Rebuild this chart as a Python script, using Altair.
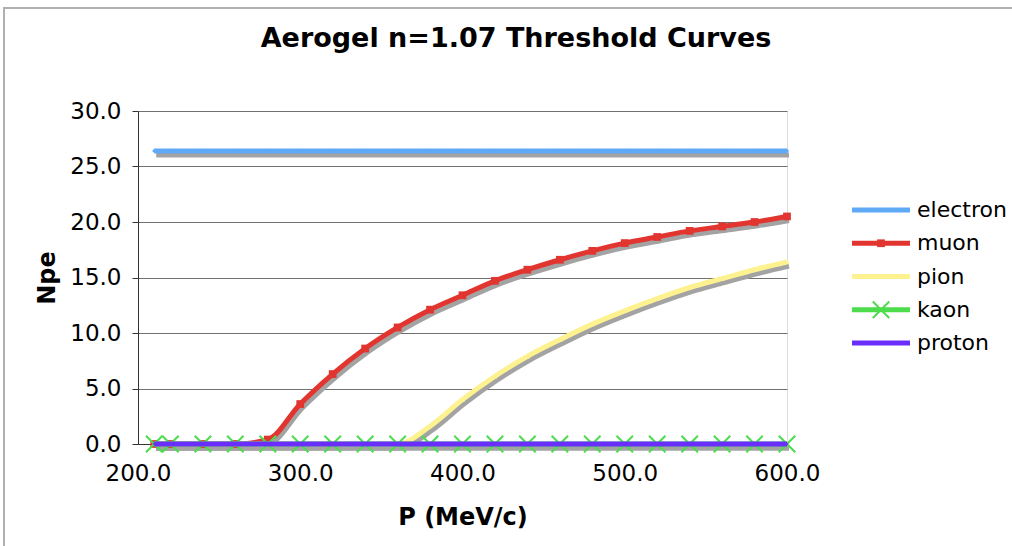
import altair as alt
import pandas as pd

# ---- data ----
P = [210, 220, 240, 260, 280, 300, 320, 340, 360, 380, 400,
     420, 440, 460, 480, 500, 520, 540, 560, 580, 600]
electron = [26.4, 26.4, 26.4, 26.4, 26.4, 26.4, 26.4, 26.4, 26.4, 26.4, 26.4,
            26.4, 26.4, 26.4, 26.4, 26.4, 26.4, 26.4, 26.4, 26.4, 26.4]
muon = [0.0, 0.0, 0.0, 0.0, 0.4, 3.6, 6.3, 8.6, 10.5, 12.1, 13.4,
        14.7, 15.7, 16.6, 17.4, 18.1, 18.65, 19.2, 19.6, 20.0, 20.5]
pion = [0.0, 0.0, 0.0, 0.0, 0.0, 0.0, 0.0, 0.0, 0.0, 1.6, 4.0,
        6.1, 7.9, 9.4, 10.8, 12.0, 13.1, 14.1, 14.9, 15.7, 16.4]
kaon = [0.0, 0.0, 0.0, 0.0, 0.0, 0.0, 0.0, 0.0, 0.0, 0.0, 0.0,
        0.0, 0.0, 0.0, 0.0, 0.0, 0.0, 0.0, 0.0, 0.0, 0.0]
proton = [0.0, 0.0, 0.0, 0.0, 0.0, 0.0, 0.0, 0.0, 0.0, 0.0, 0.0,
          0.0, 0.0, 0.0, 0.0, 0.0, 0.0, 0.0, 0.0, 0.0, 0.0]

names = ["electron", "muon", "pion", "kaon", "proton"]
colors = ["#5eaaf7", "#e2352f", "#fdf28f", "#4cdc4c", "#6a2efc"]
series_values = [electron, muon, pion, kaon, proton]
title_text = "Aerogel n=1.07 Threshold Curves"

rows = []
for n, vals in zip(names, series_values):
    for p, v in zip(P, vals):
        rows.append({"P": p, "Npe": v, "series": n})
df = pd.DataFrame(rows)
legend_df = pd.DataFrame({"series": names, "idx": list(range(len(names)))})

FONT = "DejaVu Sans"
W, H = 649, 333
LABEL_SIZE = 23

X_PATH = "M-1,-1L1,1M-1,1L1,-1"
marker = {
    "electron": dict(shape="diamond", size=18, filled=True),
    "muon": dict(shape="square", size=60, filled=True),
    "pion": dict(shape="triangle-up", size=24, filled=True),
    "kaon": dict(shape=X_PATH, size=270, filled=False, strokeWidth=2),
    "proton": dict(shape="diamond", size=10, filled=True),
}

x_enc = alt.X("P:Q", scale=alt.Scale(domain=[200, 600], nice=False, zero=False),
              axis=alt.Axis(values=[200, 300, 400, 500, 600], format=".1f",
                            title="P (MeV/c)", grid=False, ticks=False, tickSize=0,
                            labelPadding=18, labelFontSize=LABEL_SIZE, labelFont=FONT,
                            labelColor="#000", domainColor="#333", domainWidth=1,
                            titleFont=FONT, titleFontSize=24, titleFontWeight="bold",
                            titleColor="#000", titleY=80, titleBaseline="alphabetic",
                            labelFlush=False))
y_enc = alt.Y("Npe:Q", scale=alt.Scale(domain=[0, 30], nice=False),
              axis=alt.Axis(values=[0, 5, 10, 15, 20, 25, 30], format=".1f",
                            title="Npe", grid=True, gridColor="#707070", gridWidth=1,
                            tickSize=6, tickColor="#333", labelPadding=11,
                            labelFontSize=LABEL_SIZE, labelFont=FONT, labelColor="#000",
                            domainColor="#333", domainWidth=1,
                            titleFont=FONT, titleFontSize=24, titleFontWeight="bold",
                            titleColor="#000", titleX=-91, titleY=H / 2,
                            titleBaseline="middle", titleAngle=-90))

base = alt.Chart(df)

frame = alt.Chart(legend_df.head(1)).mark_rect(
    filled=False, stroke="#b0b0b0", strokeWidth=2
).encode(x=alt.value(-134), x2=alt.value(1012 - 138 + 20),
         y=alt.value(8 - 111), y2=alt.value(546 - 111 + 20))

title = alt.Chart(legend_df.head(1)).mark_text(
    font=FONT, fontSize=27, fontWeight="bold",
    color="#000", align="center", baseline="alphabetic"
).encode(x=alt.value(516 - 138), y=alt.value(47 - 111), text=alt.value(title_text))

layers = [frame, title]
# shadows
for n in names:
    sub = base.transform_filter(alt.datum.series == n)
    layers.append(sub.mark_line(strokeWidth=5, color="#a3a3a3", xOffset=2, yOffset=4,
                                interpolate="monotone")
                  .encode(x=x_enc, y=y_enc))
# series lines + markers
for n, c in zip(names, colors):
    sub = base.transform_filter(alt.datum.series == n)
    layers.append(sub.mark_line(strokeWidth=5, color=c, interpolate="monotone")
                  .encode(x=x_enc, y=y_enc))
    m = marker[n]
    if m["filled"]:
        layers.append(sub.mark_point(shape=m["shape"], size=m["size"], filled=True,
                                     color=c, opacity=1).encode(x=x_enc, y=y_enc))
    else:
        layers.append(sub.mark_point(shape=m["shape"], size=m["size"], filled=False,
                                     color=c, strokeWidth=m["strokeWidth"], opacity=1)
                      .encode(x=x_enc, y=y_enc))

main = alt.layer(*layers)

# ---- legend drawn as its own layer ----
ly = alt.Y("idx:Q", scale=alt.Scale(domain=[0, 4], range=[99, 232], nice=False, zero=False),
           axis=None)
lc = alt.Color("series:N", scale=alt.Scale(domain=names, range=colors), legend=None)
lbase = alt.Chart(legend_df)
leg_layers = [
    lbase.mark_rule(strokeWidth=5).encode(x=alt.value(714), x2=alt.value(772), y=ly, color=lc),
    lbase.mark_text(align="left", baseline="middle", fontSize=22, font=FONT, color="#000")
    .encode(x=alt.value(779), y=ly, text="series:N"),
]
for n, c in zip(names, colors):
    m = marker[n]
    sub = lbase.transform_filter(alt.datum.series == n)
    if m["filled"]:
        leg_layers.append(sub.mark_point(shape=m["shape"], size=m["size"], filled=True,
                                         color=c, opacity=1)
                          .encode(x=alt.value(743), y=ly))
    else:
        leg_layers.append(sub.mark_point(shape=m["shape"], size=m["size"], filled=False,
                                         color=c, strokeWidth=m["strokeWidth"], opacity=1)
                          .encode(x=alt.value(743), y=ly))
legend = alt.layer(*leg_layers)

chart = alt.layer(main, legend).resolve_scale(y="independent", color="independent").properties(
    width=W, height=H,
    padding={"left": 138, "top": 111, "right": 1012 - 138 - W, "bottom": 546 - 111 - H},
    autosize=alt.AutoSizeParams(type="none"),
).configure_view(fill="#d3d3d3", stroke="#8a8a8a", strokeWidth=2
).configure(background="#ffffff")

chart.save("out.html", embed_options={"renderer": "svg", "actions": False})
